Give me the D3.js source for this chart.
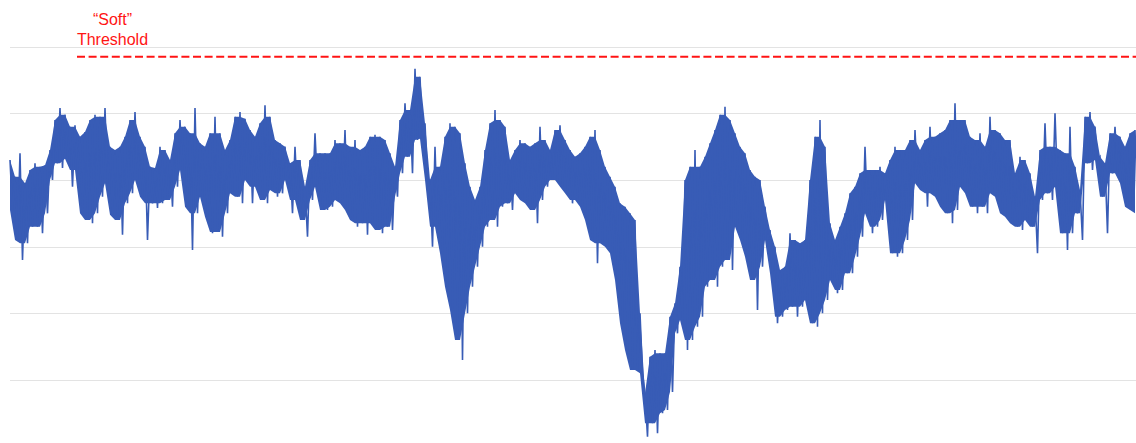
<!DOCTYPE html>
<html>
<head>
<meta charset="utf-8">
<script src="https://cdn.jsdelivr.net/npm/d3@7"></script>
<style>
  html, body { margin: 0; padding: 0; background: #fff; }
  svg { display: block; }
</style>
</head>
<body>
<svg id="chart" width="1136" height="443"></svg>
<script>
// Horizontal reference levels
const gridValues = [0, 10, 20, 30, 40, 50];

// Threshold level and its label
const thresholdValue = 48.5;
const thresholdLabel = ["\u201CSoft\u201D", "Threshold"];

// Signal envelope, one reading per time step: local maxima
const peaks = [
  33, 30.5, 34, 29.5, 31.5, 32.5, 32, 32.2, 34.5, 39, 40.8, 39.8, 38, 38.2, 36.5, 37.2, 39, 39.8, 39.5, 40.8,
  35, 34.5, 35, 36.5, 39, 40.2, 36.5, 35, 32, 31.8, 35, 34.5, 33, 37, 39, 38, 37, 40.8,
  35.5, 35, 37, 39.5, 37, 34.5, 36, 39.5, 40.2, 39.2, 37.5, 36.5, 38.5, 41.2, 39.5, 36, 35.5, 35, 32.5, 35,
  33, 29, 33, 37, 34, 34, 34, 36, 35.5, 37.5, 35, 36, 34.5, 35, 36.5, 36.8, 36.5,
  36, 34, 32, 39, 41.5, 40.5, 46.7, 45.5, 38.5, 30, 35, 32, 36.5, 38.5, 38, 37, 32.5, 29, 27, 29,
  34.5, 38.5, 40.5, 39, 38, 33, 34.5, 36, 35.5, 35, 35.5, 38, 36, 34.5, 37.5, 38.2, 36, 34.5,
  33.5, 34, 35, 36.5, 37.5, 34.5, 32, 30.5, 29, 26.5, 26, 25, 24, 10, -2, 3.5, 4.5, 4, 4, 9.5,
  11.5, 17, 30, 32, 34.5, 32, 33.5, 35.5, 37.5, 39.8, 41, 39, 37, 35, 34, 31.5, 30.5, 30,
  26, 22.5, 20, 16.5, 17, 22, 21, 20.5, 21, 30, 36.5, 39, 35, 23.5, 21, 23, 25, 28, 29, 31,
  35, 31.5, 31.5, 32, 31, 33, 35, 34.5, 34.5, 36, 37.5, 34.5, 36, 38, 36.5, 37, 37.5, 39, 41.5, 39,
  39, 36.5, 36, 37, 35, 39.5, 37.5, 37, 36, 36, 31, 33.5, 33, 31, 27.5, 34.5, 38.5, 35, 40, 34.5,
  34, 38, 32, 28.5, 39.5, 40.2, 38, 33.5, 32.5, 37, 38, 36.5, 35, 37, 37.5
];

// Signal envelope, one reading per time step: local minima
const troughs = [
  25.5, 21, 18, 20.5, 23, 23, 22, 25, 30, 32.5, 31.8, 33.2, 29, 31.5, 25, 24, 23.5, 25, 27.5, 29.5,
  24.8, 24, 21.8, 26.5, 28, 30, 27.5, 21, 26.5, 25.8, 26.5, 27, 26, 29, 31.5, 26, 19.5, 25,
  27.5, 24.5, 22, 22.2, 21.5, 25, 28, 27.5, 26.5, 30, 26.5, 29, 27, 26.5, 28.5, 27.5, 28, 30, 25, 27,
  24, 21.5, 27, 29, 25.5, 25.5, 26, 27, 26.5, 25.5, 24, 23, 23.5, 21.8, 23.5, 22.5, 22,
  23, 22.5, 27.5, 31, 33.5, 31, 36, 36.2, 30, 20, 23, 19, 14, 10.5, 6, 3, 10, 14, 17, 20,
  23, 24, 23, 26, 26.5, 25.5, 28, 27, 26.5, 25.5, 23.5, 27, 29, 30, 30, 29, 28, 26.5,
  27, 26, 24, 21, 17.5, 20.5, 20, 19, 15, 8.5, 4.5, 1.5, 1.5, 1, -8.5, -6.5, -8, -5, -4.5, -1.8,
  7, 9, 4.5, 6, 8, 9.5, 14, 15, 14, 17, 18, 16.5, 23, 21, 18.5, 15, 10.5, 17,
  21, 16, 8.5, 9.5, 10.5, 11, 9.5, 11, 12, 8.5, 8, 10, 12, 15, 13, 13.5, 16, 16, 18.5, 21.5,
  25, 22, 23, 24, 27, 19, 18.5, 19, 21, 24, 29.5, 28.5, 26, 28, 27.5, 26, 25, 23.5, 25.5, 29,
  28, 26, 25, 26, 25, 28, 27.5, 25, 24.5, 23.5, 23, 22.5, 24, 23, 19, 27, 28, 27, 29, 22,
  19.5, 22, 25, 21, 32.5, 31.5, 33, 27.5, 22, 31, 31, 29.5, 26, 25.5, 25
];

const width = 1136, height = 443;
const plotLeft = 10, plotRight = 1135;
const lineColor = "#385cb6";
const thresholdColor = "#ff1414";

const svg = d3.select("#chart");

const x = d3.scaleLinear().domain([0, peaks.length - 1]).range([plotLeft, plotRight]);
const y = d3.scaleLinear().domain([0, 50]).range([380, 46.67]);

// Gridlines
svg.append("g")
  .selectAll("line")
  .data(gridValues)
  .join("line")
  .attr("x1", plotLeft)
  .attr("x2", width)
  .attr("y1", d => Math.round(y(d)) + 0.5)
  .attr("y2", d => Math.round(y(d)) + 0.5)
  .attr("stroke", "#e3e3e3")
  .attr("stroke-width", 1);

// Dense body of the signal; isolated extremes are left to the trace as spikes
const n = peaks.length;
const prev = (arr, i) => arr[Math.max(0, i - 1)];
const next = (arr, i) => arr[Math.min(n - 1, i + 1)];
const bodyTop = peaks.map((p, i) => Math.min(p, Math.max(prev(peaks, i), next(peaks, i))));
const bodyBottom = troughs.map((t, i) => Math.max(t, Math.min(prev(troughs, i), next(troughs, i))));

const band = d3.area()
  .x((d, i) => x(i))
  .y0((d, i) => y(bodyBottom[i]))
  .y1(d => y(d));

svg.append("path")
  .datum(bodyTop)
  .attr("d", band)
  .attr("fill", lineColor);

// Oscillating trace alternating between the maxima and minima
const trace = [];
peaks.forEach((p, i) => {
  trace.push({ t: i, v: p });
  trace.push({ t: i + 0.5, v: troughs[i] });
});

const line = d3.line()
  .x(d => x(d.t))
  .y(d => y(d.v));

svg.append("path")
  .datum(trace)
  .attr("d", line)
  .attr("fill", "none")
  .attr("stroke", lineColor)
  .attr("stroke-width", 1.6)
  .attr("stroke-linejoin", "miter");

// Threshold line
svg.append("line")
  .attr("x1", 77)
  .attr("x2", width)
  .attr("y1", y(thresholdValue))
  .attr("y2", y(thresholdValue))
  .attr("stroke", thresholdColor)
  .attr("stroke-width", 2)
  .attr("stroke-dasharray", "8,3.6");

// Threshold label
svg.append("text")
  .attr("x", 112.5)
  .attr("text-anchor", "middle")
  .attr("font-family", "Liberation Sans, Arial, Helvetica, sans-serif")
  .attr("font-size", 16)
  .attr("fill", thresholdColor)
  .selectAll("tspan")
  .data(thresholdLabel)
  .join("tspan")
  .attr("x", 112.5)
  .attr("y", (d, i) => 25 + i * 20)
  .text(d => d);
</script>
</body>
</html>
